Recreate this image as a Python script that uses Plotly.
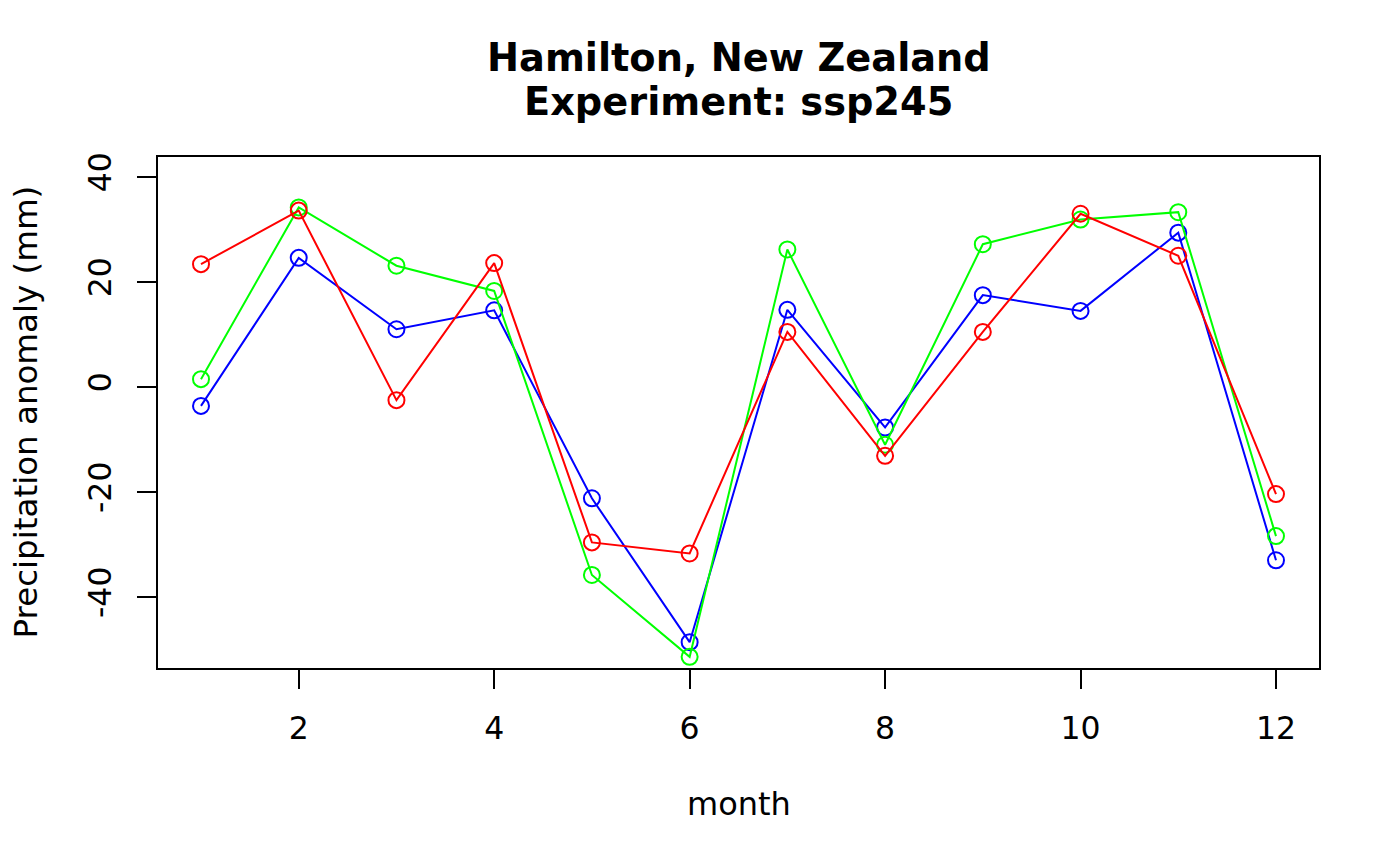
import plotly.graph_objects as go

months = list(range(1, 13))
series_red = [23.4, 33.6, -2.5, 23.6, -29.6, -31.7, 10.5, -13.1, 10.5, 33.0, 25.0, -20.4]
series_green = [1.5, 34.2, 23.1, 18.3, -35.8, -51.4, 26.2, -11.0, 27.2, 31.9, 33.3, -28.4]
series_blue = [-3.6, 24.6, 11.0, 14.6, -21.2, -48.6, 14.7, -7.7, 17.5, 14.5, 29.4, -33.0]
x_ticks = [2, 4, 6, 8, 10, 12]
y_ticks = [-40, -20, 0, 20, 40]

title_lines = ["Hamilton, New Zealand", "Experiment: ssp245"]
x_title = "month"
y_title = "Precipitation anomaly (mm)"

FONT = "DejaVu Sans"
W, H = 1400, 865
L, R, T, B = 158, 1319, 157, 668
PH = B - T
PW = R - L

def ypaper(pix):
    return (B - pix) / PH

def xpaper(pix):
    return (pix - L) / PW

fig = go.Figure()
for name, vals, col in [("blue", series_blue, "#0000FF"),
                        ("green", series_green, "#00FF00"),
                        ("red", series_red, "#FF0000")]:
    fig.add_trace(go.Scatter(
        x=months, y=vals, mode="lines+markers", name=name,
        line=dict(color=col, width=2),
        marker=dict(symbol="circle-open", size=16, color=col, line=dict(width=2, color=col)),
        showlegend=False,
    ))

axis_common = dict(
    showline=True, mirror=True, linecolor="black", linewidth=1.5,
    ticks="outside", ticklen=19, tickwidth=1.5, tickcolor="black",
    showgrid=False, zeroline=False,
    tickfont=dict(family=FONT, size=31.5, color="black"),
)

fig.update_layout(
    width=W, height=H,
    margin=dict(l=L, r=W - R, t=T, b=H - B, pad=0),
    paper_bgcolor="white", plot_bgcolor="white",
    xaxis=dict(range=[0.56, 12.44], tickvals=x_ticks, ticktext=[str(v) for v in x_ticks],
               ticklabelstandoff=12, **axis_common),
    yaxis=dict(range=[-53.52, 43.81], tickvals=y_ticks, ticktext=[str(v) for v in y_ticks],
               tickangle=-90, ticklabelstandoff=14, **axis_common),
    annotations=[
        dict(text="<b>%s</b>" % title_lines[0], x=0.5, y=ypaper(57), xref="paper", yref="paper",
             showarrow=False, xanchor="center", yanchor="middle",
             font=dict(family=FONT, size=38.3, color="black")),
        dict(text="<b>%s</b>" % title_lines[1], x=0.5, y=ypaper(101), xref="paper", yref="paper",
             showarrow=False, xanchor="center", yanchor="middle",
             font=dict(family=FONT, size=38.3, color="black")),
        dict(text=x_title, x=0.5, y=ypaper(804), xref="paper", yref="paper",
             showarrow=False, xanchor="center", yanchor="middle",
             font=dict(family=FONT, size=32, color="black")),
        dict(text=y_title, x=xpaper(25), y=ypaper(412.5), xref="paper", yref="paper",
             showarrow=False, xanchor="center", yanchor="middle", textangle=-90,
             font=dict(family=FONT, size=32.5, color="black")),
    ],
)

fig.write_html("out.html", config={"displayModeBar": False},
               post_script="document.body.style.margin='0';document.body.style.overflow='hidden';")
